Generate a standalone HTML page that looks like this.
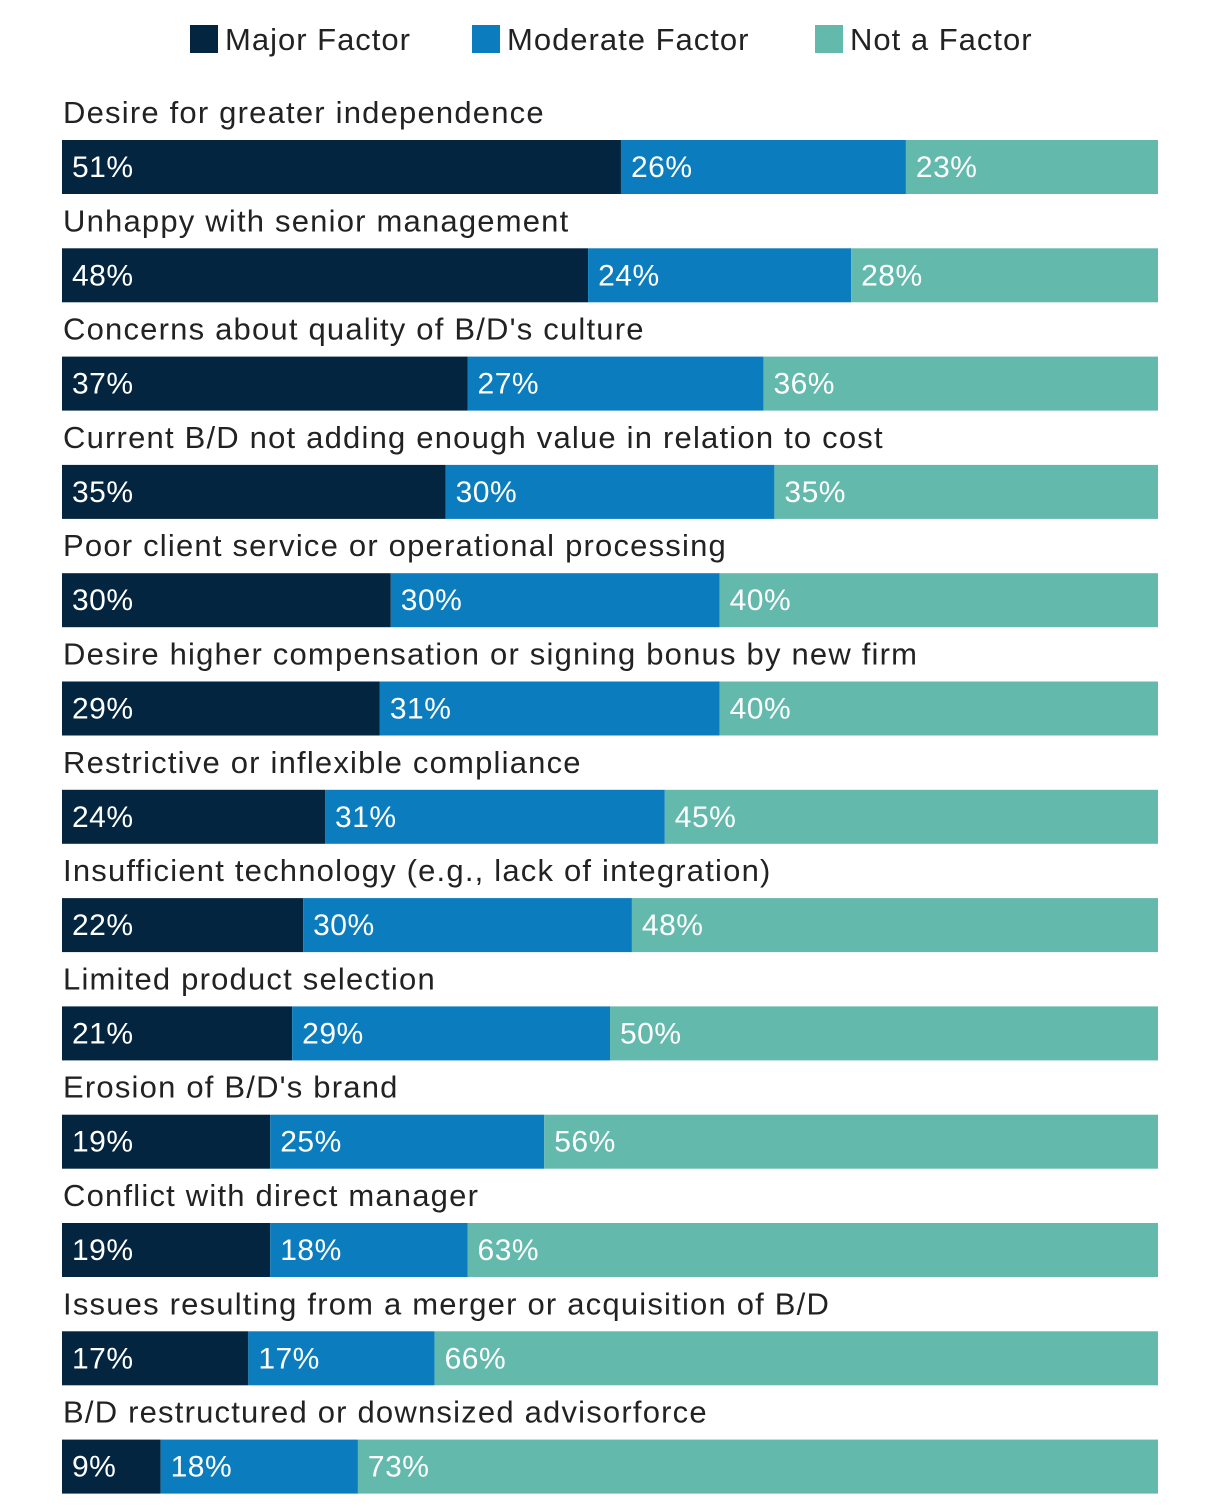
<!DOCTYPE html>
<html><head><meta charset="utf-8"><style>
body{margin:0;background:#fff;width:1220px;height:1506px;overflow:hidden;font-family:"Liberation Sans",sans-serif}
svg text{font-family:"Liberation Sans",sans-serif}
</style></head><body>
<svg id="chart" width="1220" height="1506"></svg>
<script>
const categories=["Desire for greater independence","Unhappy with senior management","Concerns about quality of B/D's culture","Current B/D not adding enough value in relation to cost","Poor client service or operational processing","Desire higher compensation or signing bonus by new firm","Restrictive or inflexible compliance","Insufficient technology (e.g., lack of integration)","Limited product selection","Erosion of B/D's brand","Conflict with direct manager","Issues resulting from a merger or acquisition of B/D","B/D restructured or downsized advisorforce"];
const major=[51,48,37,35,30,29,24,22,21,19,19,17,9];
const moderate=[26,24,27,30,30,31,31,30,29,25,18,17,18];
const notFactor=[23,28,36,35,40,40,45,48,50,56,63,66,73];
const seriesNames=["Major Factor","Moderate Factor","Not a Factor"];
const colors=["#03253f","#0b7dbf","#64b9ad"];
const NS="http://www.w3.org/2000/svg";
const svg=document.getElementById('chart');
const x0=62,x1=1158;
const xs=v=>x0+(x1-x0)*v/100;
const rowY=i=>140+i*108.3;
const barH=54;
function mk(t,a){const e=document.createElementNS(NS,t);for(const k in a)e.setAttribute(k,a[k]);svg.appendChild(e);return e;}
const legX=[190,472,815];
seriesNames.forEach((n,i)=>{
  const r=mk('rect',{x:legX[i],y:25,width:28,height:28,fill:colors[i]});
  
  
  const t=mk('text',{x:legX[i]+35,y:50,'font-size':31,fill:'#222','letter-spacing':1});
  t.textContent=n;
  
  
});
categories.forEach((c,i)=>{
  const y=rowY(i);
  const t=mk('text',{x:63,y:y-17,'font-size':31,fill:'#222','letter-spacing':1.2});
  t.textContent=c;
  
  
  const vals=[major[i],moderate[i],notFactor[i]];
  let acc=0;
  vals.forEach((v,j)=>{
    const xa=xs(acc),xb=j==2?x1:xs(acc+v);
    const r=mk('rect',{x:xa,y:y,width:xb-xa,height:barH,fill:colors[j]});
    
    
    const l=mk('text',{x:xa+10,y:y+37,'font-size':30,fill:'#fff','letter-spacing':0.5});
    l.textContent=v+'%';
    
    
    acc+=v;
  });
});
</script>
</body></html>
